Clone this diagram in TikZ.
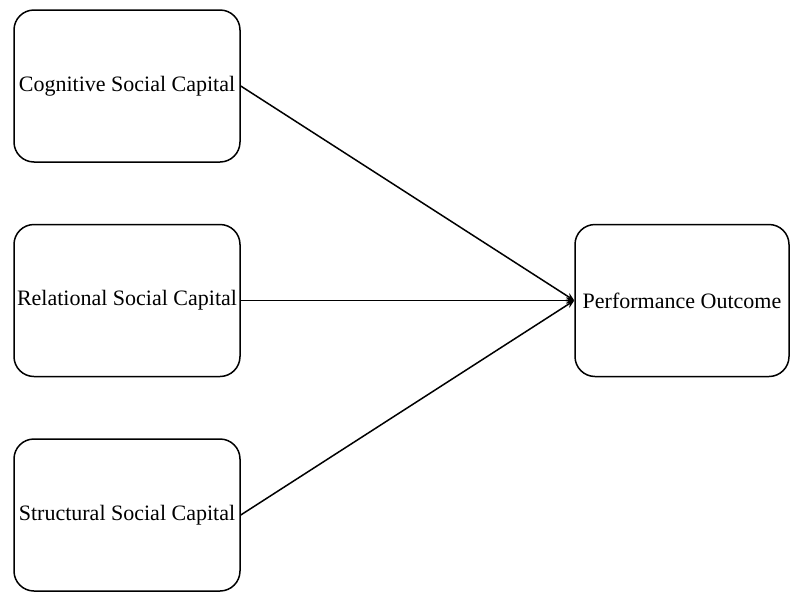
\documentclass[tikz,border=0pt]{standalone}
\usepackage{fontspec}
\setmainfont{Liberation Serif}
\usetikzlibrary{arrows.meta,positioning}

\begin{document}
\begin{tikzpicture}[
      x=1pt, y=-1pt,
      >={Stealth[length=8pt,width=7pt]},
      capbox/.style={draw, line width=1.5pt, rounded corners=20pt, minimum width=226pt, minimum height=152pt,
                  inner sep=0pt, align=center, font=\fontsize{22}{26}\selectfont},
      link/.style={->, line width=1.5pt}]
    \useasboundingbox (0,0) rectangle (790,592);
    \node[capbox] (cog) at (127,86) {Cognitive Social Capital};
    \node[capbox] (rel) at (127,300.5) {Relational Social Capital};
    \node[capbox] (str) at (127,515) {Structural Social Capital};
    \node[capbox, minimum width=214pt] (perf) at (682,300.5) {Performance Outcome};
    \draw[link] (cog.east) -- (perf.west);
    \draw[link] (rel.east) -- (perf.west);
    \draw[link] (str.east) -- (perf.west);
  \end{tikzpicture}
\end{document}
